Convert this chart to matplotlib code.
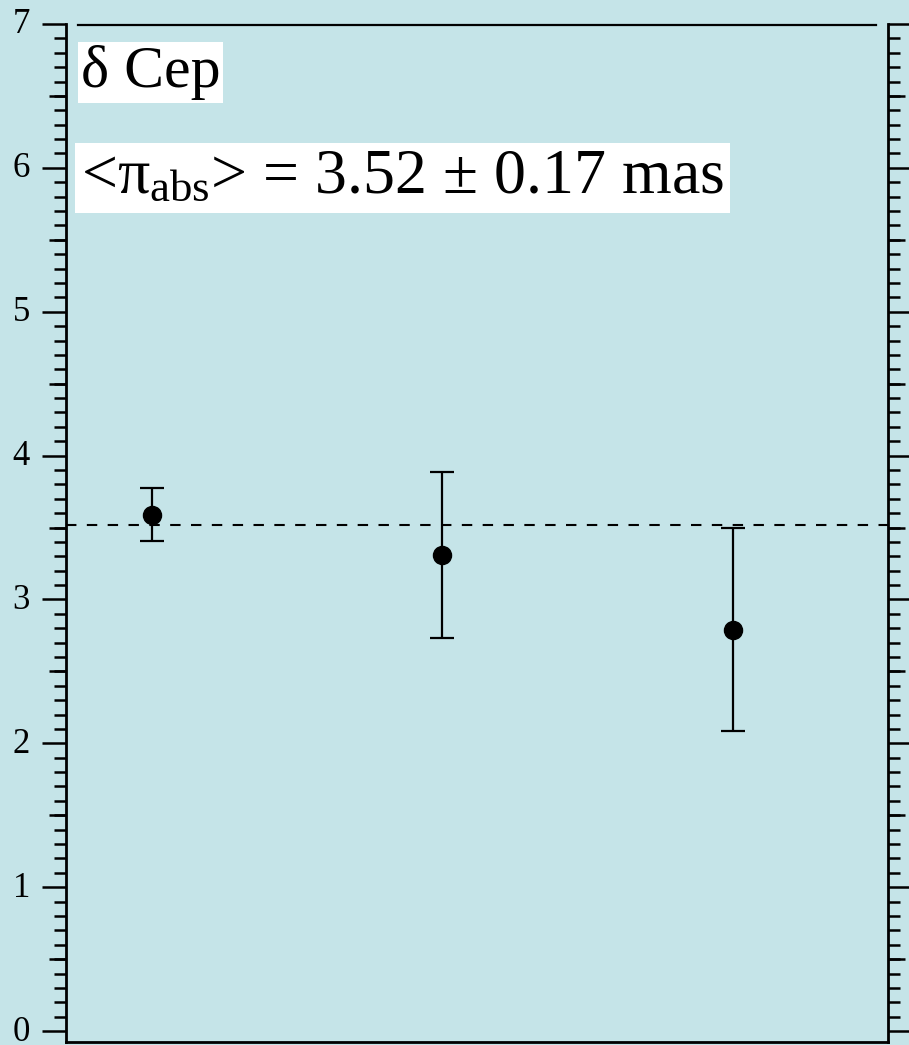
import numpy as np
import matplotlib.pyplot as plt
import matplotlib.transforms as mtransforms
from matplotlib.ticker import MultipleLocator, FixedLocator, NullFormatter

plt.rcParams['font.family'] = ['Liberation Serif', 'DejaVu Serif']
plt.rcParams['mathtext.fontset'] = 'custom'
plt.rcParams['mathtext.rm'] = 'Liberation Serif'
plt.rcParams['mathtext.it'] = 'Liberation Serif:italic'

# parallax measurements (mas)
epochs = [1, 2, 3]
parallax = [3.59, 3.31, 2.79]
parallax_err = [0.185, 0.575, 0.705]
mean_parallax = 3.52

star_name = "δ Cep"
mean_label = r"<$\mathrm{\pi}_{\mathrm{abs}}$> = 3.52 ± 0.17 mas"

bg = '#c5e4e8'
lw = 1.6

fig = plt.figure(figsize=(9.09, 10.45), dpi=100, facecolor=bg)
ax = fig.add_axes([66 / 909, 3 / 1045, 822 / 909, 1018 / 1045])
ax.set_facecolor(bg)

ax.errorbar(epochs, parallax, yerr=parallax_err, fmt='o', color='k',
            ms=13, capsize=8.6, elinewidth=lw, capthick=lw)
ax.axhline(mean_parallax, color='k', lw=1.5, ls=(0, (5, 5)))
ax.axhline(6.99, xmin=0.0146, xmax=0.985, color='k', lw=lw, clip_on=False)

ax.set_xlim(0.704, 3.534)
ax.set_ylim(-0.076, 7)
ax.set_xticks([])

ax.yaxis.set_major_locator(MultipleLocator(1))
ax.yaxis.set_minor_locator(MultipleLocator(0.1))
ax.tick_params(axis='y', which='both', direction='out', left=True, right=True,
               labelleft=True, labelright=False)
ax.tick_params(axis='y', which='major', length=17, width=1.8, labelsize=25, pad=9)
ax.tick_params(axis='y', which='minor', length=8.6, width=1.8)

# nudge tick labels up a little, like the original
shift = mtransforms.ScaledTranslation(0, 3 / 100, fig.dpi_scale_trans)
for lab in ax.get_yticklabels():
    lab.set_transform(lab.get_transform() + shift)

halves = np.arange(0.5, 7, 1.0)
for side in ['left', 'right']:
    sec = ax.secondary_yaxis(side)
    sec.yaxis.set_major_locator(FixedLocator(halves))
    sec.yaxis.set_major_formatter(NullFormatter())
    sec.tick_params(axis='y', which='major', length=12, width=1.8, direction='out')
    sec.tick_params(axis='y', which='minor', length=0)
    for sp in sec.spines.values():
        sp.set_visible(False)

ax.spines['top'].set_visible(False)
for s in ['left', 'right', 'bottom']:
    ax.spines[s].set_linewidth(2)

ax.text(0.018, 0.938, star_name, transform=ax.transAxes, fontsize=43,
        ha='left', va='baseline',
        bbox=dict(facecolor='white', edgecolor='none', boxstyle='square,pad=0.05'))
ax.text(0.0183, 0.834, mean_label, transform=ax.transAxes, fontsize=46,
        ha='left', va='baseline',
        bbox=dict(facecolor='white', edgecolor='none', boxstyle='square,pad=0.1'))

fig.savefig('out.png', dpi=100, facecolor=bg)
